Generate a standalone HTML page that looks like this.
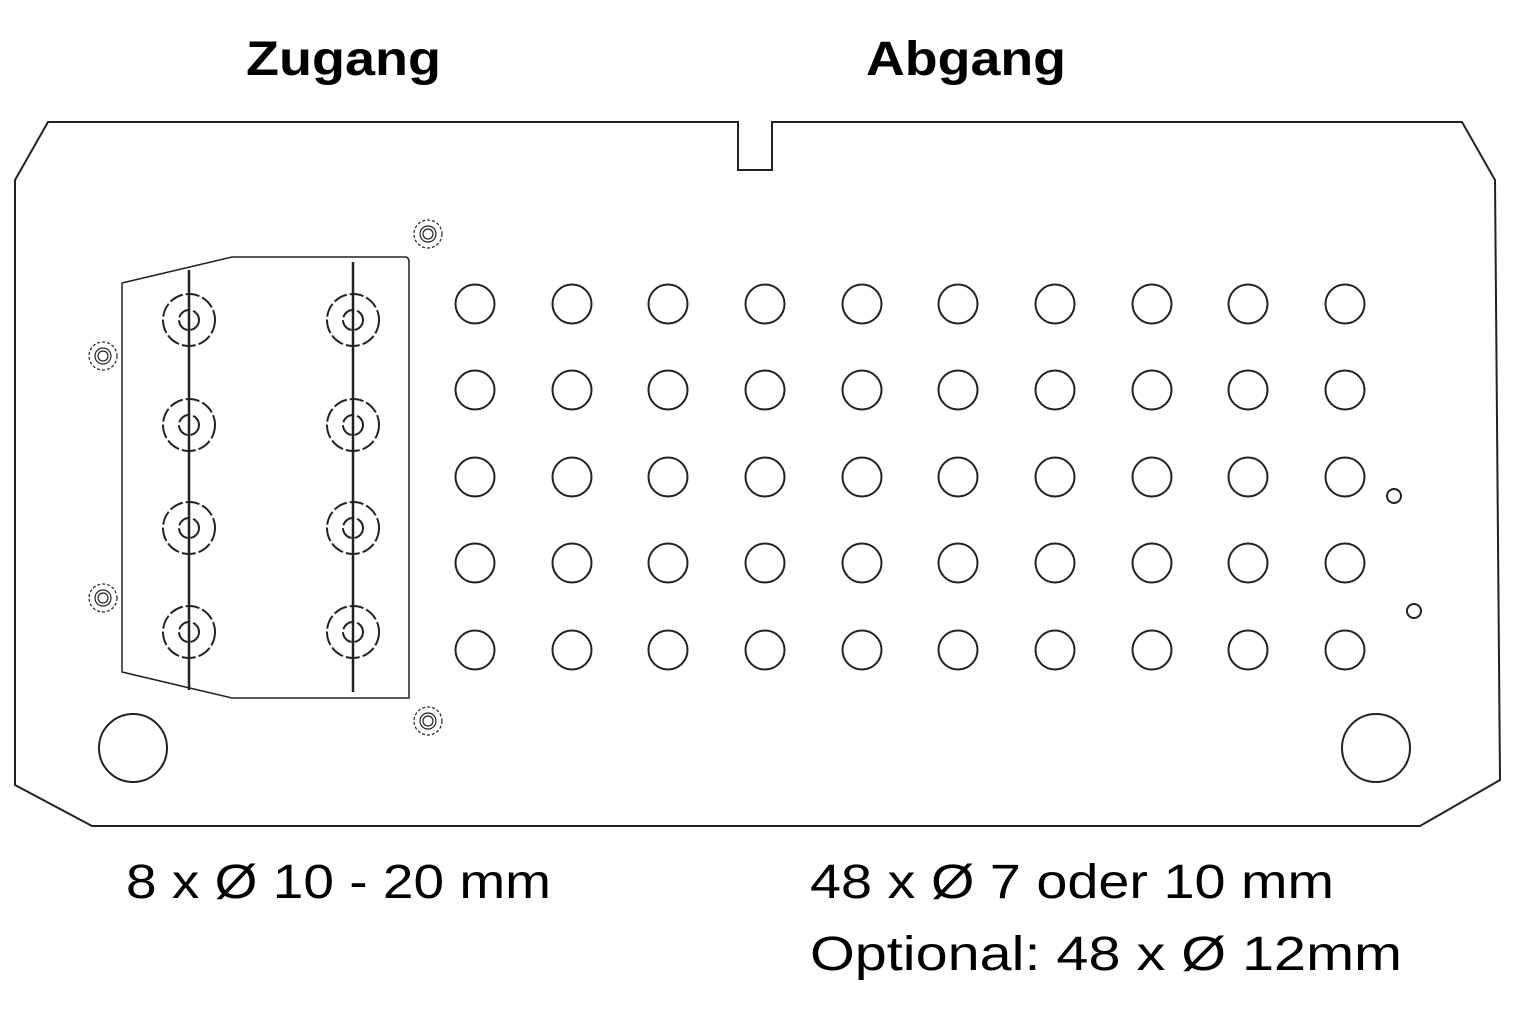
<!DOCTYPE html>
<html><head><style>body{margin:0;background:#fff}svg{display:block}</style></head><body>
<svg width="1514" height="1024" viewBox="0 0 1514 1024" xmlns="http://www.w3.org/2000/svg" font-family="Liberation Sans, sans-serif">
<g fill="none" stroke="#222" stroke-width="2">
<path d="M48,122 L738,122 L738,170 L772,170 L772,122 L1462,122 L1495,180 L1500,780 L1420,826 L92,826 L15,785 L15,180 Z"/>
<path d="M122,283 L232,257 L405,257 Q409,257 409,262 L409,698 L232,698 L122,672 Z" stroke-width="1.5"/>
<line x1="189" y1="270" x2="189" y2="690" stroke-width="2.5"/>
<line x1="353" y1="262" x2="353" y2="692" stroke-width="2.5"/>
<g stroke-dasharray="14 3">
<circle cx="189" cy="320" r="26"/><circle cx="189" cy="320" r="10"/>
<circle cx="189" cy="425" r="26"/><circle cx="189" cy="425" r="10"/>
<circle cx="189" cy="528" r="26"/><circle cx="189" cy="528" r="10"/>
<circle cx="189" cy="632" r="26"/><circle cx="189" cy="632" r="10"/>
<circle cx="353" cy="320" r="26"/><circle cx="353" cy="320" r="10"/>
<circle cx="353" cy="425" r="26"/><circle cx="353" cy="425" r="10"/>
<circle cx="353" cy="528" r="26"/><circle cx="353" cy="528" r="10"/>
<circle cx="353" cy="632" r="26"/><circle cx="353" cy="632" r="10"/>
</g>
<g stroke-width="1.2">
<circle cx="428" cy="234" r="14" stroke-dasharray="3 2"/><circle cx="428" cy="234" r="8"/><circle cx="428" cy="234" r="5"/>
<circle cx="103" cy="356" r="14" stroke-dasharray="3 2"/><circle cx="103" cy="356" r="8"/><circle cx="103" cy="356" r="5"/>
<circle cx="103" cy="598" r="14" stroke-dasharray="3 2"/><circle cx="103" cy="598" r="8"/><circle cx="103" cy="598" r="5"/>
<circle cx="428" cy="721" r="14" stroke-dasharray="3 2"/><circle cx="428" cy="721" r="8"/><circle cx="428" cy="721" r="5"/>
</g>
<circle cx="133" cy="748" r="34"/><circle cx="1376" cy="748" r="34"/>
<circle cx="1394" cy="496" r="7"/><circle cx="1414" cy="611" r="7"/>
<g id="row">
<circle cx="475" cy="304" r="19.5"/><circle cx="572" cy="304" r="19.5"/><circle cx="668" cy="304" r="19.5"/><circle cx="765" cy="304" r="19.5"/><circle cx="862" cy="304" r="19.5"/><circle cx="958" cy="304" r="19.5"/><circle cx="1055" cy="304" r="19.5"/><circle cx="1152" cy="304" r="19.5"/><circle cx="1248" cy="304" r="19.5"/><circle cx="1345" cy="304" r="19.5"/>
</g>
<use href="#row" y="86"/><use href="#row" y="173"/><use href="#row" y="259"/><use href="#row" y="346"/>
</g>
<g fill="#000">
<text x="246" y="75" font-size="48" font-weight="bold" textLength="195" lengthAdjust="spacingAndGlyphs">Zugang</text>
<text x="866" y="75" font-size="48" font-weight="bold" textLength="200" lengthAdjust="spacingAndGlyphs">Abgang</text>
<text x="126" y="898" font-size="48" textLength="425" lengthAdjust="spacingAndGlyphs">8 x Ø 10 - 20 mm</text>
<text x="810" y="898" font-size="48" textLength="524" lengthAdjust="spacingAndGlyphs">48 x Ø 7 oder 10 mm</text>
<text x="810" y="970" font-size="48" textLength="592" lengthAdjust="spacingAndGlyphs">Optional: 48 x Ø 12mm</text>
</g>
</svg>
</body></html>
